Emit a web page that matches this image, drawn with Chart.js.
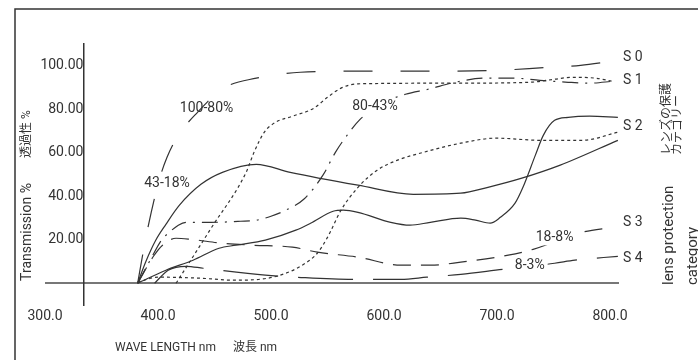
<!DOCTYPE html>
<html>
<head>
<meta charset="utf-8">
<script src="https://cdn.jsdelivr.net/npm/chart.js@4"></script>
<style>
html, body { margin: 0; padding: 0; background: #fff; }
</style>
</head>
<body>
<canvas id="chart" width="698" height="360"></canvas>
<script>
// axis ticks
const waveTicks = [300, 400, 500, 600, 700, 800];
const transTicks = [0, 20, 40, 60, 80, 100];

// lens protection categories and their transmission ranges
const categories = ['S 0', 'S 1', 'S 2', 'S 3', 'S 4'];
const ranges = ['100-80%', '80-43%', '43-18%', '18-8%', '8-3%'];

// curves: wavelength (nm) / transmission (%)
const s0Wave = [382, 388, 394, 401, 408, 418, 435, 458, 487, 526, 579, 641, 700, 738, 774, 802];
const s0Trans = [0, 17.5, 32.6, 47.4, 57.9, 68, 78.6, 89.7, 94.3, 97, 97.5, 97.5, 97.9, 99, 100.2, 102.1];

const s1DotWave = [416, 447, 478, 485, 494, 504, 519, 538, 550, 562, 577, 668, 729, 751, 766, 787, 802];
const s1DotTrans = [0, 25.3, 51, 60.2, 69.4, 74, 76.8, 80.5, 85.5, 89.7, 91.7, 92, 92.4, 93.8, 94.7, 94.3, 92.9];

const s1DashWave = [382, 394, 403, 410, 418, 425, 447, 473, 487, 500, 511, 529, 546, 557, 568, 578, 597, 619, 639, 663, 690, 714, 738, 763, 782, 803];
const s1DashTrans = [0, 11.5, 19.8, 23.4, 26.7, 28, 28, 28.5, 29, 30.8, 33.1, 38.6, 49.7, 60.2, 68.5, 74.9, 82.3, 86.9, 89.2, 92.4, 94.3, 94.3, 93.3, 92.4, 92, 92.9];

const s2PeakWave = [382, 389, 398, 407, 419, 438, 457, 487, 517, 577, 626, 668, 692, 722, 756, 807];
const s2PeakTrans = [0, 9.7, 19.8, 27.1, 35.9, 45.5, 51, 54.7, 51, 45.1, 40.9, 41.4, 44.1, 48.3, 54.3, 65.7];

const s2WavyWave = [382, 407, 431, 454, 469, 495, 522, 535, 555, 564, 577, 606, 623, 641, 668, 681, 694, 703, 716, 723, 734, 741, 751, 763, 782, 807];
const s2WavyTrans = [0, 6, 10.6, 16.1, 17.5, 19.8, 24.4, 27.6, 33.1, 33.6, 32.6, 28, 26.7, 28, 29.9, 29, 27.6, 30.3, 36.8, 44.1, 58.9, 68, 74.9, 76.3, 76.8, 76.3];

const s2DotWave = [382, 400, 438, 467, 497, 513, 526, 541, 550, 562, 577, 594, 612, 635, 668, 699, 740, 775, 807];
const s2DotTrans = [0.5, 2.8, 2.3, 1.4, 2.3, 4.6, 7.8, 13.8, 21.1, 33.6, 44.1, 52, 56.6, 60.2, 64.4, 66.7, 65.7, 65.7, 69.4];

const s3Wave = [382, 396, 404, 416, 429, 457, 484, 519, 541, 577, 615, 641, 668, 710, 732, 775, 802];
const s3Trans = [0, 12.4, 17.5, 20.7, 20.2, 18.4, 17.5, 16.6, 14.3, 12, 8.3, 8.3, 9.7, 12.9, 15.6, 23.4, 25.7];

const s4Wave = [397, 409, 425, 440, 495, 522, 572, 615, 638, 668, 705, 729, 751, 769, 807];
const s4Trans = [0, 6, 7.8, 6.9, 3.7, 2.8, 1.8, 1.8, 2.8, 4.1, 6.4, 7.8, 9.2, 10.6, 12.4];

const ink = '#333';
const family = 'Roboto, "Liberation Sans", "Noto Sans CJK JP", sans-serif';

const toPoints = (wave, trans) => wave.map((w, i) => ({ x: w, y: trans[i] }));

const curves = [
    { data: toPoints(s0Wave, s0Trans), dash: [29, 28] },
    { data: toPoints(s1DotWave, s1DotTrans), dash: [3, 3] },
    { data: toPoints(s1DashWave, s1DashTrans), dash: [16, 7, 2, 7] },
    { data: toPoints(s2PeakWave, s2PeakTrans), dash: [] },
    { data: toPoints(s2WavyWave, s2WavyTrans), dash: [] },
    { data: toPoints(s2DotWave, s2DotTrans), dash: [3, 3] },
    { data: toPoints(s3Wave, s3Trans), dash: [18, 10] },
    { data: toPoints(s4Wave, s4Trans), dash: [55, 20] }
];

// where the range notes and the category names sit (data units)
const rangeSpots = [
    { x: 443, y: 80.5, mask: false },
    { x: 592, y: 81.4, mask: true },
    { x: 408, y: 46, mask: false },
    { x: 751, y: 21.1, mask: true },
    { x: 729, y: 8.3, mask: true }
];
const categorySpotX = 811.5;
const categorySpotY = [103.9, 93.3, 72.2, 28, 11.5];

const rotated = (ctx, text, x, y, font, align) => {
    ctx.save();
    ctx.translate(x, y);
    ctx.rotate(-Math.PI / 2);
    ctx.font = font;
    ctx.textAlign = align;
    ctx.textBaseline = 'middle';
    ctx.fillText(text, 0, 0);
    ctx.restore();
};

const decor = {
    id: 'decor',
    beforeDraw(chart) {
        const ctx = chart.ctx;
        ctx.save();
        ctx.strokeStyle = ink;
        ctx.lineWidth = 1.5;
        ctx.beginPath();
        ctx.moveTo(698, 9);
        ctx.lineTo(15, 9);
        ctx.lineTo(15, 360);
        ctx.stroke();
        ctx.restore();
    },
    afterDraw(chart) {
        const { ctx, scales: { x, y } } = chart;
        ctx.save();
        ctx.fillStyle = ink;
        ctx.font = '14px ' + family;
        ctx.textBaseline = 'middle';

        ranges.forEach((text, i) => {
            const px = x.getPixelForValue(rangeSpots[i].x);
            const py = y.getPixelForValue(rangeSpots[i].y);
            const w = ctx.measureText(text).width;
            if (rangeSpots[i].mask) {
                ctx.fillStyle = '#fff';
                ctx.fillRect(px - w / 2 - 3, py - 8, w + 6, 16);
                ctx.fillStyle = ink;
            }
            ctx.textAlign = 'center';
            ctx.fillText(text, px, py);
        });

        ctx.textAlign = 'left';
        categories.forEach((text, i) => {
            ctx.fillText(text, x.getPixelForValue(categorySpotX), y.getPixelForValue(categorySpotY[i]));
        });

        // axis titles
        rotated(ctx, 'Transmission %', 27, 232, '14px ' + family, 'center');
        rotated(ctx, '透過性 %', 27, 134, '12px ' + family, 'center');
        ctx.font = '12px ' + family;
        ctx.textAlign = 'left';
        ctx.fillText('WAVE LENGTH nm', 115, 348);
        ctx.fillText('波長 nm', 233, 348);

        // right side caption
        rotated(ctx, 'レンズの保護', 667, 155, '12px ' + family, 'left');
        rotated(ctx, 'カテゴリー', 678, 155, '12px ' + family, 'left');
        rotated(ctx, 'lens protection', 669, 285, '15px ' + family, 'left');
        rotated(ctx, 'category', 693, 285, '15px ' + family, 'left');
        ctx.restore();
    }
};

new Chart(document.getElementById('chart'), {
    type: 'line',
    data: {
        datasets: curves.map(c => ({
            data: c.data,
            borderColor: ink,
            borderWidth: 1.2,
            borderDash: c.dash,
            pointRadius: 0,
            fill: false,
            cubicInterpolationMode: 'monotone'
        }))
    },
    options: {
        responsive: false,
        animation: false,
        layout: { padding: { left: 45, right: 79, top: 44, bottom: 25 } },
        plugins: { legend: { display: false }, tooltip: { enabled: false } },
        scales: {
            x: {
                type: 'linear',
                min: 300,
                max: 808,
                afterBuildTicks: s => { s.ticks = waveTicks.map(v => ({ value: v })); },
                afterFit: s => { s.height = 30; },
                grid: { display: false, drawTicks: false },
                border: { display: false },
                ticks: {
                    callback: v => v.toFixed(1),
                    color: ink,
                    font: { family: family, size: 14 },
                    padding: 3,
                    maxRotation: 0,
                    autoSkip: false
                }
            },
            y: {
                type: 'linear',
                min: -10,
                max: 110,
                position: { x: 334 },
                afterBuildTicks: s => { s.ticks = transTicks.map(v => ({ value: v })); },
                grid: {
                    drawTicks: false,
                    color: c => c.tick && c.tick.value === 0 ? '#777' : 'rgba(0,0,0,0)',
                    lineWidth: c => c.tick && c.tick.value === 0 ? 2 : 0
                },
                border: { color: ink, width: 1.5 },
                ticks: {
                    callback: v => v === 0 ? '' : v.toFixed(2),
                    color: ink,
                    font: { family: family, size: 14 },
                    padding: 3
                }
            }
        }
    },
    plugins: [decor]
});
</script>
</body>
</html>
